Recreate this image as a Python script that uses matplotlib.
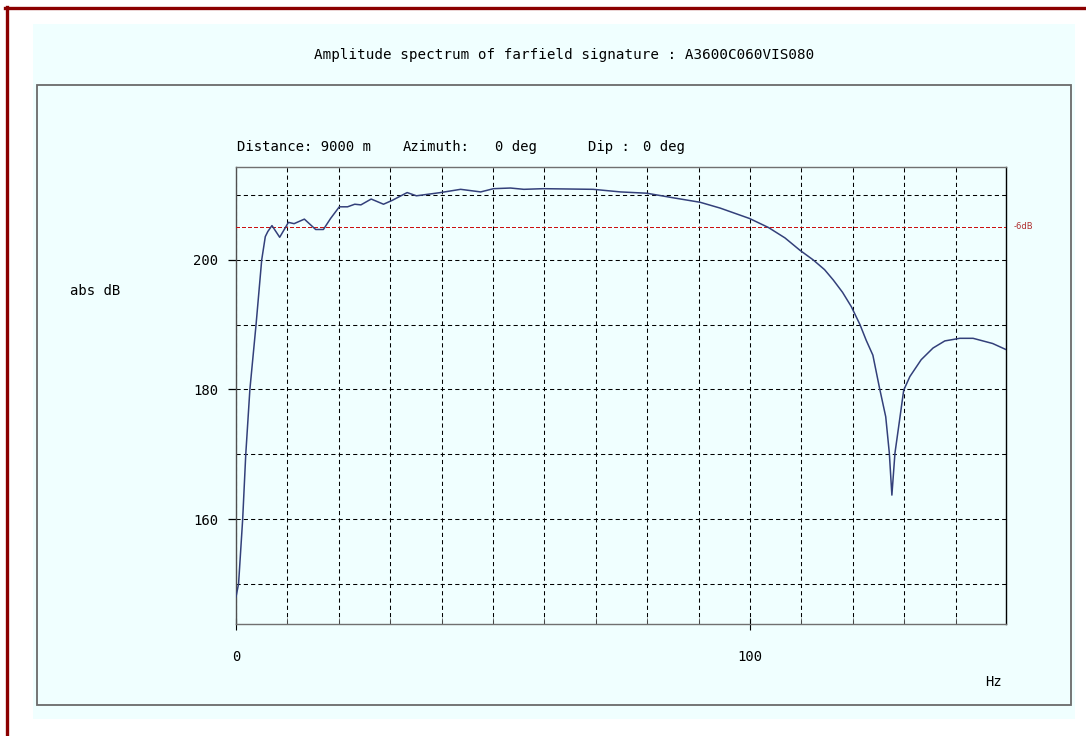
import numpy as np
import matplotlib
matplotlib.use("Agg")
import matplotlib.pyplot as plt
from matplotlib.patches import Rectangle
from matplotlib.lines import Line2D

# ---------------- data ----------------
freq_hz = [0, 0.5, 1.3, 1.9, 2.7, 3.9, 5.0, 5.7, 6.2, 7.0, 8.5, 10.2, 11.3, 13.3,
           15.5, 17.0, 18.4, 20.1, 21.7, 23.1, 24.3, 26.3, 28.7, 30.4, 33.3, 35.1,
           39.8, 43.7, 47.6, 50.1, 53.4, 56.0, 59.8, 69.5, 74.8, 79.9, 85.0, 90.3,
           94.2, 99.9, 103.6, 106.8, 109.7, 112.3, 114.5, 116.2, 118.0, 119.7,
           121.4, 122.6, 123.9, 125.2, 126.4, 127.1, 127.6, 128.2, 129.1, 129.9,
           131.1, 133.3, 135.6, 137.9, 140.8, 143.4, 147.2, 149.7]
amp_db = [148.0, 150.0, 160.0, 170.0, 180.0, 190.0, 200.0, 203.6, 204.4, 205.3,
          203.5, 205.8, 205.6, 206.3, 204.7, 204.7, 206.4, 208.2, 208.2, 208.6,
          208.5, 209.4, 208.6, 209.2, 210.4, 209.9, 210.4, 210.9, 210.5, 211.0,
          211.1, 210.9, 211.0, 210.9, 210.5, 210.3, 209.6, 208.9, 208.0, 206.4,
          205.0, 203.4, 201.5, 200.0, 198.5, 196.9, 195.0, 192.8, 190.0, 187.6,
          185.3, 180.2, 175.8, 170.2, 163.7, 170.2, 175.3, 179.9, 182.0, 184.6,
          186.4, 187.5, 187.9, 187.9, 187.1, 186.2]

y_major = [160, 180, 200]
y_minor = [150, 170, 190, 210]
x_major = [0, 100]
x_minor = [10, 20, 30, 40, 50, 60, 70, 80, 90, 110, 120, 130, 140]
x_lim = (0, 149.8)
y_lim = (143.8, 214.3)

title = "Amplitude spectrum of farfield signature : A3600C060VIS080"
info_texts = ["Distance: 9000 m", "Azimuth:", "0 deg", "Dip :", "0 deg"]
ref_drop_db = 6

# ---------------- layout ----------------
W, H = 1086, 736
fig = plt.figure(figsize=(W / 100, H / 100), dpi=100)
fig.patch.set_facecolor("white")
MONO = "DejaVu Sans Mono"

def fx(x):
    return x / W

def fy(y):
    return 1 - y / H

# light panel
fig.patches.append(Rectangle((fx(33), fy(719)), fx(1075) - fx(33), fy(24) - fy(719),
                             transform=fig.transFigure, facecolor="#f0ffff",
                             edgecolor="none", zorder=-2))
# inner box
fig.patches.append(Rectangle((fx(37), fy(705)), fx(1071) - fx(37), fy(85) - fy(705),
                             transform=fig.transFigure, facecolor="none",
                             edgecolor="#6a6a6a", linewidth=1.3, zorder=-1))
# dark red frame (top and left)
fig.lines.append(Line2D([fx(5), 1.0], [fy(8), fy(8)], transform=fig.transFigure,
                        color="#8b0000", linewidth=2.4, zorder=2))
fig.lines.append(Line2D([fx(6.5), fx(6.5)], [fy(7), 0.0], transform=fig.transFigure,
                        color="#8b0000", linewidth=2.4, zorder=2))

ax = fig.add_axes([fx(236), fy(624), fx(1006) - fx(236), fy(167.3) - fy(624)])
ax.set_zorder(3)
ax.set_facecolor("none")
ax.plot(freq_hz, amp_db, color="#33407a", linewidth=1.1, zorder=4)

ref_level = max(amp_db) - ref_drop_db
ax.axhline(ref_level, color="#cc1111", linewidth=0.9, linestyle=(0, (2.5, 2)),
           zorder=3, antialiased=False)
ax.text(1.01, ref_level, "-6dB", transform=ax.get_yaxis_transform(),
        color="#b03030", fontsize=6, va="center", ha="left", family="DejaVu Sans")

ax.set_xlim(*x_lim)
ax.set_ylim(*y_lim)
ax.set_xticks(x_major)
ax.set_xticks(x_minor, minor=True)
ax.set_yticks(y_major)
ax.set_yticks(y_minor, minor=True)
ax.set_xticklabels([str(v) for v in x_major], family=MONO, fontsize=10)
ax.set_yticklabels([str(v) for v in y_major], family=MONO, fontsize=10)

ax.grid(which="both", color="black", linewidth=0.75, linestyle=(0, (4, 3)), zorder=2)
ax.tick_params(axis="y", which="major", direction="out", length=6, width=0.9,
               pad=7, colors="black")
ax.tick_params(axis="y", which="minor", length=0)
ax.tick_params(axis="x", which="major", direction="inout", length=9, width=0.8,
               pad=14, colors="black")
ax.tick_params(axis="x", which="minor", direction="in", length=4, width=0.6,
               color="#555555")

for side, col in [("left", "#505050"), ("bottom", "#707070"),
                  ("top", "#707070"), ("right", "black")]:
    ax.spines[side].set_color(col)
    ax.spines[side].set_linewidth(1.0)

# texts
fig.text(fx(564), fy(55), title, family=MONO, fontsize=10.3, ha="center", va="center")
info_x = [237, 403, 495, 588, 643]
for xpos, t in zip(info_x, info_texts):
    fig.text(fx(xpos), fy(147), t, family=MONO, fontsize=10, ha="left", va="center")
fig.text(fx(70), fy(291), "abs dB", family=MONO, fontsize=10, ha="left", va="center")
fig.text(fx(993), fy(682), "Hz", family=MONO, fontsize=10, ha="center", va="center")

fig.savefig("out.png", dpi=100, facecolor=fig.get_facecolor())
